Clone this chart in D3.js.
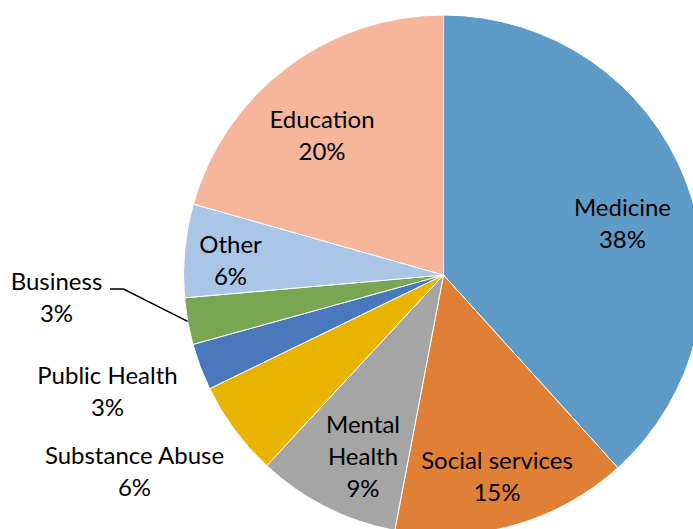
<!DOCTYPE html>
<html><head><meta charset="utf-8">
<script src="https://cdn.jsdelivr.net/npm/d3@7"></script>
<style>body{margin:0;background:#fff}svg{display:block}</style>
</head><body>
<svg id="c" width="693" height="529"></svg>
<script>
const categories = ["Medicine","Social services","Mental Health","Substance Abuse","Public Health","Business","Other","Education"];
const values = [38.3,14.7,8.9,5.9,2.9,2.9,5.8,20.6];
const pctLabels = ["38%","15%","9%","6%","3%","3%","6%","20%"];
const colors = ["#5f9bc7","#e07f36","#a5a5a5","#e9b400","#4a78bc","#77a752","#a9c6e7","#f5b69b"];
// label name lines and placement (relative to pie centre)
const nameLines = [["Medicine"],["Social services"],["Mental","Health"],["Substance Abuse"],["Public Health"],["Business"],["Other"],["Education"]];
const labelPos = [[179,-51],[53.5,201.5],[-80.5,182],[-309,197],[-336,116.5],[-387,22.5],[-213,-14],[-121.5,-139]];

const svg = d3.select("#c");
const cx = 443.5, cy = 275, R = 260;
const g = svg.append("g").attr("transform",`translate(${cx},${cy})`);
const pie = d3.pie().sort(null).value(d=>d)(values);
const arc = d3.arc().innerRadius(0).outerRadius(R);
g.selectAll("path.slice").data(pie).join("path").attr("class","slice")
  .attr("d",arc).attr("fill",(d,i)=>colors[i])
  .attr("stroke","#fff").attr("stroke-width",1);

// leader line for Business
const bus = pie[5];
const ba = (bus.startAngle+bus.endAngle)/2;
const px = R*Math.sin(ba), py = -R*Math.cos(ba);
g.append("path").attr("d",`M${-333.5},${14}L${-320},${14}L${px},${py}`)
  .attr("fill","none").attr("stroke","#000").attr("stroke-width",1.5);

const font = "Lato, 'Open Sans', sans-serif";
nameLines.forEach((nl,i)=>{
  const lines = nl.concat([pctLabels[i]]);
  const [lx,ly] = labelPos[i];
  const t = g.append("text").attr("x",lx).attr("y",ly - (lines.length-1)*16)
    .attr("text-anchor","middle").attr("font-family",font).attr("font-size",24)
    .attr("fill","#000");
  lines.forEach((s,j)=>{
    t.append("tspan").attr("x",lx).attr("dy",j===0?"0.35em":32).text(s);
  });
});
</script>
</body></html>
